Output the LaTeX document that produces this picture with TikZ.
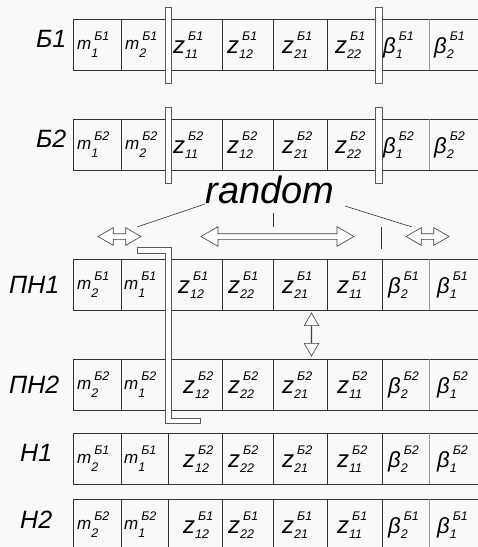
\documentclass[tikz,border=0pt]{standalone}
\usepackage{fontspec}
\setmainfont{Liberation Sans}
\usetikzlibrary{shapes.arrows}
\definecolor{bgc}{RGB}{249,249,249}
\definecolor{lnc}{RGB}{50,50,50}
\definecolor{lgc}{RGB}{150,150,150}
\newcommand\subf{\fontsize{12.5}{12.5}\selectfont\itshape}
\newcommand\mycell[6]{{\fontsize{#1}{#1}\selectfont\itshape #2}\rlap{\raisebox{#5}{\subf #3}}\kern3pt\raisebox{#6}{\subf #4}}
\newcommand\Cm[2]{\mycell{17}{m}{#1}{#2}{-8pt}{9pt}}
\newcommand\Cz[2]{\mycell{24}{z}{#1}{#2}{-5pt}{13pt}}
\newcommand\Cb[2]{\mycell{22}{β}{#1}{#2}{-5pt}{13pt}}
\tikzset{
  cellline/.style={draw=lnc, line width=0.9pt},
  lightline/.style={draw=lgc, line width=0.9pt},
  barst/.style={draw=black!65, fill=white, line width=0.7pt},
  ct/.style={anchor=base west, inner sep=0pt, text=black},
  lbl/.style={anchor=base west, inner sep=0pt, font=\fontsize{25}{25}\selectfont\itshape},
  arr/.style={double arrow, draw=black!75, fill=white, line width=0.6pt, inner xsep=0pt,
    inner ysep=2.5pt, text height=0pt, text depth=0pt, double arrow tip angle=60},
  conn/.style={draw=black!80, line width=0.6pt}
}
\begin{document}
\begin{tikzpicture}[x=1pt,y=-1pt]
\useasboundingbox (0,0) rectangle (478,547);
\fill[bgc] (0,0) rectangle (478,547);
\begin{scope}
\clip (0,0) rectangle (478,547);
% row frames
\foreach \t in {19,119,259,359,433,499} {
  \draw[cellline] (490,\t) -- (73,\t) -- (73,\t+51) -- (490,\t+51);
  \draw[lightline] (429,\t) -- (429,\t+51);
}
\foreach \t in {19,119} {
  \foreach \x in {121,168,222,273,327,378} \draw[cellline] (\x,\t) -- (\x,\t+51);
}
\foreach \t in {259,359,433,499} {
  \foreach \x in {121,168,222,273,327,382} \draw[cellline] (\x,\t) -- (\x,\t+51);
}
% bars
\draw[barst] (165,7) rectangle (171,83);
\draw[barst] (375,7) rectangle (382,83);
\draw[barst] (165,107) rectangle (171,183);
\draw[barst] (375,107) rectangle (382,183);
% bracket
\draw[barst] (137,247) -- (171,247) -- (171,418) -- (200,418) -- (200,423) -- (165,423) -- (165,253) -- (137,253) -- cycle;
% labels
\node[lbl] (lB1) at (36,47) {Б1};
\node[lbl] (lB2) at (36,147) {Б2};
\node[lbl] (lPN1) at (9,293) {ПН1};
\node[lbl] (lPN2) at (9,393) {ПН2};
\node[lbl] (lN1) at (20,461) {Н1};
\node[lbl] (lN2) at (20,528) {Н2};
% B rows
\foreach \t/\s [count=\r] in {19/Б1,119/Б2} {
  \node[ct] (b\r-1) at (77,\t+30) {\Cm{1}{\s}};
  \node[ct] (b\r-2) at (125,\t+30) {\Cm{2}{\s}};
  \node[ct] (b\r-3) at (173,\t+34) {\Cz{11}{\s}};
  \node[ct] (b\r-4) at (227,\t+34) {\Cz{12}{\s}};
  \node[ct] (b\r-5) at (282,\t+34) {\Cz{21}{\s}};
  \node[ct] (b\r-6) at (335,\t+34) {\Cz{22}{\s}};
  \node[ct] (b\r-7) at (383,\t+34) {\Cb{1}{\s}};
  \node[ct] (b\r-8) at (434,\t+34) {\Cb{2}{\s}};
}
% PN rows
\foreach \t/\s/\zx [count=\r] in {259/Б1/178,359/Б2/183} {
  \node[ct] (p\r-1) at (77,\t+30) {\Cm{2}{\s}};
  \node[ct] (p\r-2) at (124,\t+30) {\Cm{1}{\s}};
  \node[ct] (p\r-3) at (\zx,\t+34) {\Cz{12}{\s}};
  \node[ct] (p\r-4) at (228,\t+34) {\Cz{22}{\s}};
  \node[ct] (p\r-5) at (282,\t+34) {\Cz{21}{\s}};
  \node[ct] (p\r-6) at (337,\t+34) {\Cz{11}{\s}};
  \node[ct] (p\r-7) at (388,\t+34) {\Cb{2}{\s}};
  \node[ct] (p\r-8) at (437,\t+34) {\Cb{1}{\s}};
}
% N rows
\foreach \t/\s/\u [count=\r] in {433/Б1/Б2,499/Б2/Б1} {
  \node[ct] (n\r-1) at (77,\t+30) {\Cm{2}{\s}};
  \node[ct] (n\r-2) at (124,\t+30) {\Cm{1}{\s}};
  \node[ct] (n\r-3) at (183,\t+34) {\Cz{12}{\u}};
  \node[ct] (n\r-4) at (228,\t+34) {\Cz{22}{\u}};
  \node[ct] (n\r-5) at (282,\t+34) {\Cz{21}{\u}};
  \node[ct] (n\r-6) at (337,\t+34) {\Cz{11}{\u}};
  \node[ct] (n\r-7) at (388,\t+34) {\Cb{2}{\u}};
  \node[ct] (n\r-8) at (437,\t+34) {\Cb{1}{\u}};
}
% random and arrows
\node[anchor=base, inner sep=0pt, font=\fontsize{38}{38}\selectfont\itshape] (rnd) at (270,203) {random};
\node[arr, double arrow head extend=6pt, minimum height=43pt] (aL) at (119.5,236.5) {};
\node[arr, double arrow head extend=7pt, minimum height=153pt] (aM) at (277.5,236.5) {};
\node[arr, double arrow head extend=6pt, minimum height=43pt] (aR) at (427.5,236.5) {};
\node[arr, double arrow head extend=7pt, minimum height=43pt, shape border rotate=90] (aV) at (311.5,334.5) {};
\coordinate (c1) at (205,204);
\coordinate (c2) at (137,227);
\coordinate (c3) at (345,206);
\coordinate (c4) at (412,227);
\coordinate (t1) at (273,213);
\coordinate (t2) at (273,227);
\coordinate (t3) at (381,227);
\coordinate (t4) at (381,249);
\draw[conn] (c1) -- (c2);
\draw[conn] (c3) -- (c4);
\draw[conn] (t1) -- (t2);
\draw[conn] (t3) -- (t4);
\end{scope}
\end{tikzpicture}
\end{document}
